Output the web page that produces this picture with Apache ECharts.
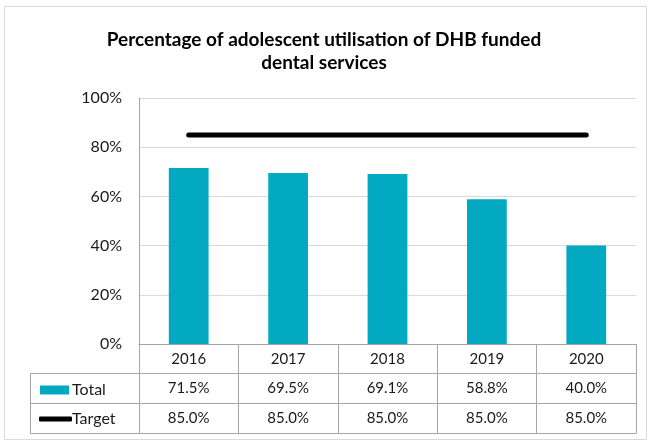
<!DOCTYPE html>
<html>
<head>
<meta charset="utf-8">
<script src="https://cdn.jsdelivr.net/npm/echarts@6/dist/echarts.min.js"></script>
<style>
  html, body { margin: 0; padding: 0; background: #fff; }
  #chart { width: 648px; height: 443px; }
</style>
</head>
<body>
<div id="chart"></div>
<script>
// data
const years = ['2016', '2017', '2018', '2019', '2020'];
const totalValues = [71.5, 69.5, 69.1, 58.8, 40.0];
const targetValues = [85.0, 85.0, 85.0, 85.0, 85.0];
const yTicks = [0, 20, 40, 60, 80, 100];

const FONT = 'Lato, "Open Sans", sans-serif';
const BAR = '#03a9c1';
const TABLE_LINE = '#a6a6a6';

const fmt = v => v.toFixed(1) + '%';

// one category axis per table row, stacked under the plot with offset
const rowAxis = (data, offset, showLabel) => ({
  type: 'category',
  data: data,
  position: 'bottom',
  offset: offset,
  boundaryGap: true,
  axisLine: { show: true, lineStyle: { color: TABLE_LINE, width: 1 } },
  axisTick: { show: showLabel, interval: 0, length: 30, inside: false, lineStyle: { color: TABLE_LINE } },
  axisLabel: { show: showLabel, interval: 0, margin: 8, fontSize: 15, color: '#1a1a1a', fontFamily: FONT },
  splitLine: { show: false }
});

const chart = echarts.init(document.getElementById('chart'), null, { renderer: 'canvas' });

const option = {
  backgroundColor: '#fff',
  animation: false,
  title: {
    text: 'Percentage of adolescent utilisation of DHB funded\ndental services',
    left: 'center',
    top: 28,
    padding: [0, 0, 0, 14],
    textStyle: { fontSize: 19, fontWeight: 'bold', color: '#000', fontFamily: FONT, lineHeight: 23 }
  },
  grid: { left: 139, right: 12, top: 98, bottom: 99, containLabel: false },
  legend: [
    {
      data: [{ name: 'Total', icon: 'rect' }],
      left: 35, top: 377,
      itemWidth: 29, itemHeight: 9, itemGap: 4,
      textStyle: { fontSize: 16, color: '#1a1a1a', fontFamily: FONT, padding: [0, 0, 0, -2] }
    },
    {
      data: [{ name: 'Target', icon: 'roundRect' }],
      left: 34, top: 406,
      itemWidth: 33, itemHeight: 5, itemGap: 4,
      textStyle: { fontSize: 16, color: '#1a1a1a', fontFamily: FONT, padding: [0, 0, 0, -5] }
    }
  ],
  xAxis: [
    rowAxis(years, 0, true),
    rowAxis(totalValues.map(fmt), 29, true),
    rowAxis(targetValues.map(fmt), 59, true),
    rowAxis(years.map(() => ''), 89, false)
  ],
  yAxis: {
    type: 'value',
    min: yTicks[0],
    max: yTicks[yTicks.length - 1],
    interval: 20,
    axisLine: { show: true, lineStyle: { color: '#a6a6a6' } },
    axisTick: { show: false },
    axisLabel: { formatter: '{value}%', fontSize: 16, color: '#1a1a1a', margin: 17, fontFamily: FONT },
    splitLine: { show: true, lineStyle: { color: '#d9d9d9' } }
  },
  series: [
    {
      name: 'Total',
      type: 'bar',
      xAxisIndex: 0,
      data: totalValues,
      barWidth: '40%',
      itemStyle: { color: BAR }
    },
    {
      name: 'Target',
      type: 'line',
      xAxisIndex: 0,
      data: targetValues,
      symbol: 'none',
      itemStyle: { color: '#000' },
      lineStyle: { color: '#000', width: 5, cap: 'round' }
    }
  ],
  graphic: [
    // outer chart frame
    { type: 'rect', shape: { x: 4.5, y: 6.5, width: 642, height: 433 }, style: { fill: null, stroke: '#d9d9d9', lineWidth: 1 }, silent: true },
    // legend column of the data table
    { type: 'polyline', shape: { points: [[139, 373.5], [30.5, 373.5], [30.5, 433.5], [139, 433.5]] }, style: { fill: null, stroke: TABLE_LINE, lineWidth: 1 }, silent: true },
    { type: 'line', shape: { x1: 30.5, y1: 403.5, x2: 139, y2: 403.5 }, style: { stroke: TABLE_LINE, lineWidth: 1 }, silent: true }
  ]
};

chart.setOption(option);
window.addEventListener('resize', () => chart.resize());
</script>
</body>
</html>
